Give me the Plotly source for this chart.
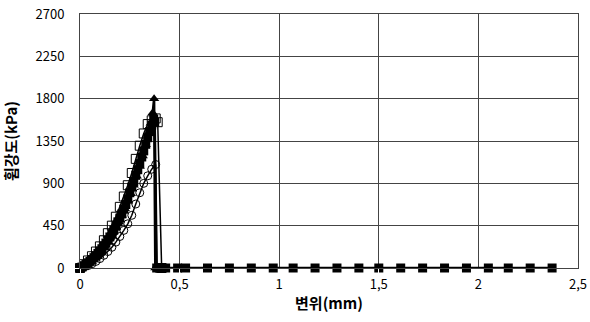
import plotly.graph_objects as go

# Filled squares series (main, with long tail)
sq_x = [0.00,0.01,0.02,0.03,0.04,0.05,0.06,0.07,0.08,0.09,0.10,0.11,0.12,0.13,0.14,0.15,0.16,0.17,0.18,0.19,
        0.20,0.21,0.22,0.23,0.24,0.25,0.26,0.27,0.28,0.29,0.30,0.31,0.32,0.33,0.34,0.35,0.36,0.37,0.375,0.385,
        0.40,0.43,0.49,0.53,0.64,0.75,0.86,0.97,1.07,1.18,1.29,1.40,1.50,1.61,1.72,1.83,1.94,2.05,2.15,2.26,2.37]
sq_y = [0,10,25,40,55,70,90,110,130,155,180,205,235,265,295,330,365,405,445,490,
        530,575,625,675,735,800,860,920,985,1045,1110,1180,1245,1315,1385,1450,1520,1580,1550,0,
        0,0,0,0,0,0,0,0,0,0,0,0,0,0,0,0,0,0,0,0,0]

# Filled triangles series
tri_x = [0.00,0.015,0.03,0.045,0.06,0.075,0.09,0.105,0.12,0.135,0.15,0.165,0.18,0.195,0.21,0.225,0.24,0.255,
         0.27,0.285,0.30,0.315,0.33,0.345,0.355,0.365,0.372,0.378]
tri_y = [0,25,45,70,100,125,160,195,240,280,325,375,430,490,560,630,710,790,
         880,975,1080,1190,1310,1440,1540,1650,1800,0]

# Open squares series
osq_x = [0.00,0.02,0.04,0.06,0.08,0.10,0.12,0.14,0.16,0.18,0.20,0.22,0.24,0.26,0.28,0.30,0.32,0.34,0.36,0.38,0.39,0.41]
osq_y = [0,40,80,125,175,230,295,370,450,545,650,760,880,1010,1160,1300,1430,1530,1570,1590,1550,0]

# Open circles series
cir_x = [0.00,0.02,0.04,0.06,0.08,0.10,0.12,0.14,0.16,0.18,0.20,0.22,0.24,0.26,0.28,0.30,0.32,0.34,0.36,0.38,0.385]
cir_y = [0,10,25,45,70,100,135,175,220,275,335,400,470,560,680,800,900,980,1050,1100,0]

x_ticks = [0, 0.5, 1, 1.5, 2, 2.5]
x_labels = ["0", "0,5", "1", "1,5", "2", "2,5"]
y_ticks = [0, 450, 900, 1350, 1800, 2250, 2700]
y_labels = ["0", "450", "900", "1350", "1800", "2250", "2700"]

fig = go.Figure()
fig.add_trace(go.Scatter(x=cir_x, y=cir_y, mode="lines+markers", cliponaxis=False,
                         line=dict(color="black", width=1.5),
                         marker=dict(symbol="circle-open", size=8, color="black", line=dict(width=1))))
fig.add_trace(go.Scatter(x=osq_x, y=osq_y, mode="lines+markers", cliponaxis=False,
                         line=dict(color="black", width=1.5),
                         marker=dict(symbol="square-open", size=9, color="black", line=dict(width=1))))
fig.add_trace(go.Scatter(x=tri_x, y=tri_y, mode="lines+markers", cliponaxis=False,
                         line=dict(color="black", width=2.5),
                         marker=dict(symbol="triangle-up", size=9, color="black")))
fig.add_trace(go.Scatter(x=sq_x, y=sq_y, mode="lines+markers", cliponaxis=False,
                         line=dict(color="black", width=2.5),
                         marker=dict(symbol="square", size=9, color="black")))

font_main = "Noto Sans CJK KR"
fig.update_layout(
    width=590, height=322,
    margin=dict(l=80, r=12, t=14, b=54),
    paper_bgcolor="white", plot_bgcolor="white",
    showlegend=False,
    font=dict(family=font_main, color="black", size=13),
)
fig.update_xaxes(range=[0, 2.5], tickvals=x_ticks, ticktext=x_labels, automargin=False,
                 showgrid=True, gridcolor="#444", gridwidth=1,
                 showline=True, linecolor="#444", linewidth=1, mirror=True,
                 zeroline=False, ticks="outside", ticklen=4, tickcolor="white", tickfont=dict(size=13),
                 title=dict(text="<b>변위(mm)</b>", font=dict(size=15), standoff=6))
fig.update_yaxes(range=[0, 2700], tickvals=y_ticks, ticktext=y_labels, automargin=False,
                 showgrid=True, gridcolor="#444", gridwidth=1,
                 showline=True, linecolor="#444", linewidth=1, mirror=True,
                 zeroline=False, ticks="outside", ticklen=12, tickcolor="white", tickfont=dict(size=13),
                 title=dict(text="<b>휨강도(kPa)</b>", font=dict(size=15), standoff=14))

fig.write_html("out.html", config={"displayModeBar": False},
               post_script="document.body.style.margin='0';")
